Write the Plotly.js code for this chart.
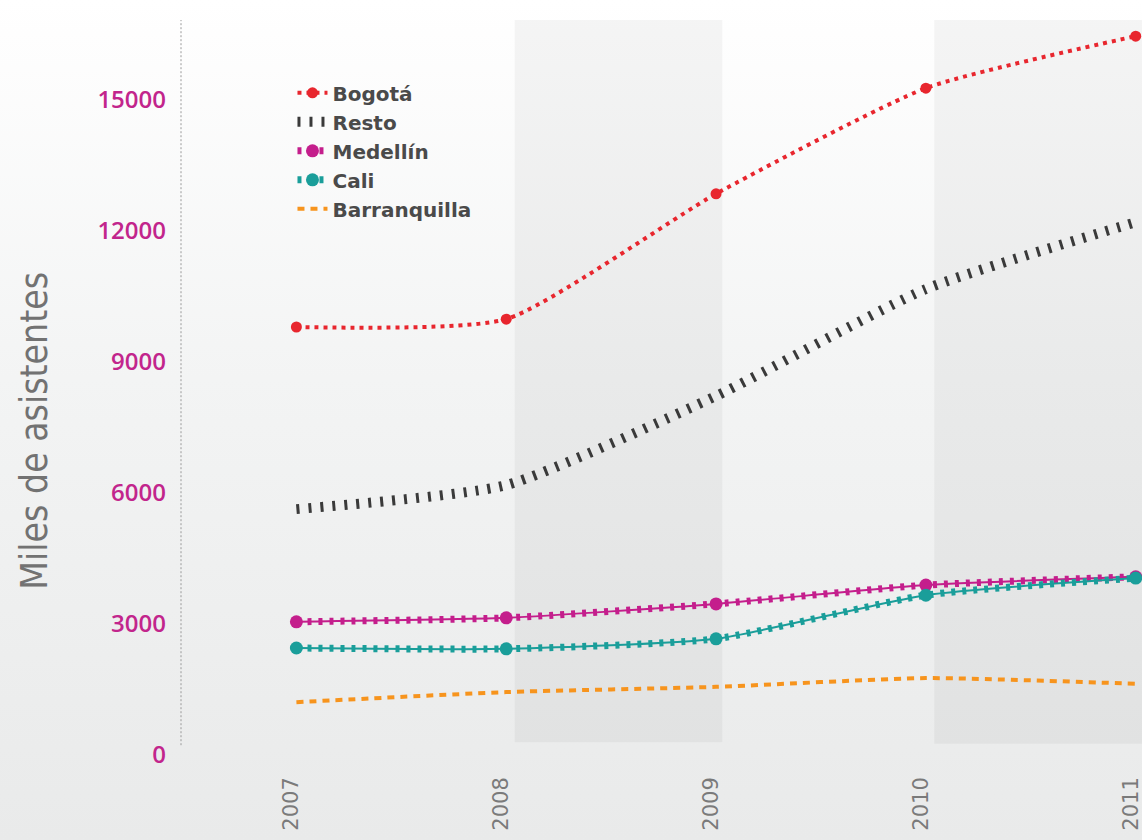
<!DOCTYPE html>
<html>
<head>
<meta charset="utf-8">
<script src="https://cdn.plot.ly/plotly-3.0.1.min.js"></script>
<style>
  html, body { margin:0; padding:0; }
  #chart { width:1142px; height:840px; background: linear-gradient(to bottom, #ffffff 0%, #f3f4f4 45%, #e9eaea 100%); }
</style>
</head>
<body>
<div id="chart"></div>
<script>
// ---- data ----
const years = [2007, 2008, 2009, 2010, 2011];
const bogota = [9800, 9980, 12850, 15270, 16460];
const resto = [5630, 6180, 8220, 10670, 12200];
const medellin = [3050, 3140, 3460, 3890, 4080];
const cali = [2450, 2430, 2660, 3660, 4050];
const barranquilla = [1210, 1440, 1560, 1760, 1630];
const yTicks = [0, 3000, 6000, 9000, 12000, 15000];
const yTickText = ['0', '3000', '6000', '9000', '12000', '15000'];
const seriesNames = ['Bogotá', 'Resto', 'Medellín', 'Cali', 'Barranquilla'];
const yTitle = 'Miles de asistentes';

const red = '#e8262e', dark = '#3a3a3a', magenta = '#c41e8c', teal = '#1a9e9a', orange = '#f7941d';
const sm = 0.55;

const traces = [
  { x: years, y: bogota, name: seriesNames[0], mode: 'lines+markers', legendgroup: 'b',
    line: { color: red, width: 4, dash: '4px,5px', shape: 'spline', smoothing: sm },
    marker: { color: red, size: 11 } },
  { x: years, y: resto, name: seriesNames[1], mode: 'lines', legendgroup: 'r',
    line: { color: dark, width: 10, dash: '3px,9px', shape: 'spline', smoothing: sm } },
  { x: years, y: medellin, name: seriesNames[2], mode: 'lines', legendgroup: 'm', showlegend: false,
    line: { color: magenta, width: 2, shape: 'spline', smoothing: sm } },
  { x: years, y: medellin, name: seriesNames[2], mode: 'lines+markers', legendgroup: 'm',
    line: { color: magenta, width: 7, dash: '4px,7px', shape: 'spline', smoothing: sm },
    marker: { color: magenta, size: 13 } },
  { x: years, y: cali, name: seriesNames[3], mode: 'lines', legendgroup: 'c', showlegend: false,
    line: { color: teal, width: 2, shape: 'spline', smoothing: sm } },
  { x: years, y: cali, name: seriesNames[3], mode: 'lines+markers', legendgroup: 'c',
    line: { color: teal, width: 7, dash: '4px,7px', shape: 'spline', smoothing: sm },
    marker: { color: teal, size: 13 } },
  { x: years, y: barranquilla, name: seriesNames[4], mode: 'lines', legendgroup: 'q',
    line: { color: orange, width: 4, dash: '7px,6px', shape: 'spline', smoothing: sm } }
];

const layout = {
  width: 1142, height: 840,
  margin: { l: 181, r: 0, t: 20, b: 80 },
  paper_bgcolor: 'rgba(0,0,0,0)',
  plot_bgcolor: 'rgba(0,0,0,0)',
  showlegend: true,
  legend: {
    x: 0.116, y: 0.928, xanchor: 'left', yanchor: 'top',
    bgcolor: 'rgba(0,0,0,0)', traceorder: 'normal',
    font: { family: 'DejaVu Sans', size: 20, color: '#4a4a4a', weight: 'bold' },
    tracegroupgap: 3
  },
  xaxis: {
    range: [2006.45, 2011.03], tickvals: years, ticktext: years.map(String),
    tickangle: -90, showgrid: false, zeroline: false, showline: false, ticks: '',
    ticklabelstandoff: 12, ticklabelshift: -5, ticklabeloverflow: 'allow',
    tickfont: { family: 'DejaVu Sans', size: 21, color: '#7a7a7a' }
  },
  yaxis: {
    range: [-115, 16830], tickvals: yTicks, ticktext: yTickText,
    showgrid: false, zeroline: false, showline: false, ticks: '',
    ticklabelstandoff: 14,
    tickfont: { family: 'Open Sans', size: 24, color: '#c2258c', weight: 600 }
  },
  annotations: [
    { text: yTitle, xref: 'paper', yref: 'paper', x: -0.152, y: 0.445, xanchor: 'center', yanchor: 'middle',
      textangle: -90, showarrow: false,
      font: { family: 'DejaVu Sans Condensed, Liberation Sans Narrow, Roboto, sans-serif', size: 37, color: '#727272' } }
  ],
  shapes: [
    { type: 'rect', xref: 'x', yref: 'paper', x0: 2008.04, x1: 2009.03, y0: 0.024, y1: 1,
      fillcolor: 'rgba(0,0,0,0.04)', line: { width: 0 }, layer: 'below' },
    { type: 'rect', xref: 'x', yref: 'paper', x0: 2010.04, x1: 2011.5, y0: 0.022, y1: 1,
      fillcolor: 'rgba(0,0,0,0.04)', line: { width: 0 }, layer: 'below' },
    { type: 'line', xref: 'paper', yref: 'paper', x0: 0, x1: 0, y0: 0.02, y1: 1,
      line: { color: '#9a9a9a', width: 1, dash: '2px,2px' }, layer: 'below' }
  ]
};

Plotly.newPlot('chart', traces, layout, { displayModeBar: false, staticPlot: true });
</script>
</body>
</html>
